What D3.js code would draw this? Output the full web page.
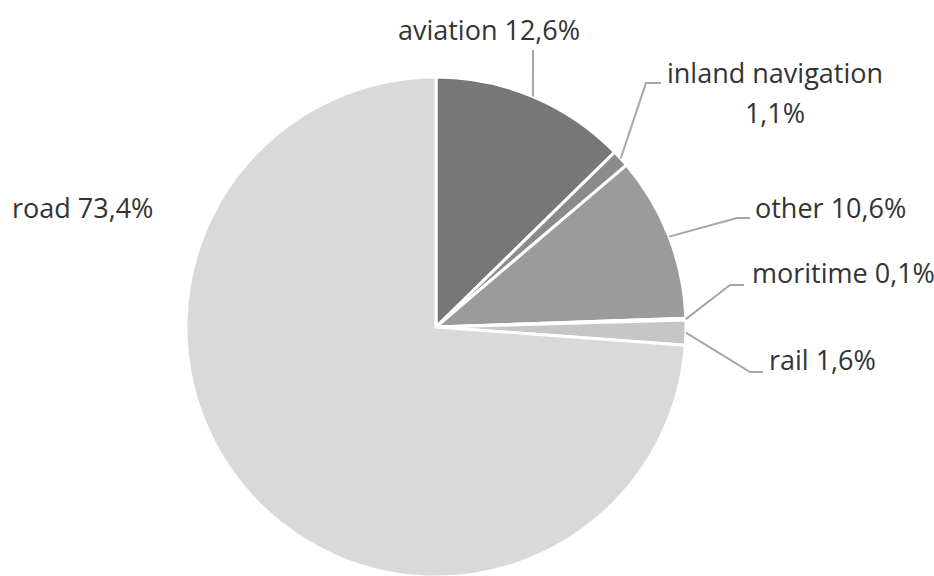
<!DOCTYPE html>
<html>
<head>
<meta charset="utf-8">
<script src="https://cdn.jsdelivr.net/npm/d3@7"></script>
<style>
  html, body { margin: 0; padding: 0; background: #fff; }
  svg { display: block; }
  text { font-family: "Open Sans", "Noto Sans", sans-serif; fill: #333333; }
</style>
</head>
<body>
<svg id="chart" width="934" height="576"></svg>
<script>
// ---- data ----
const categories = ["aviation", "inland navigation", "other", "moritime", "rail", "road"];
const shares = [12.6, 1.1, 10.6, 0.1, 1.6, 73.4];
const shareLabels = ["12,6%", "1,1%", "10,6%", "0,1%", "1,6%", "73,4%"];
const colors = ["#777777", "#8b8b8b", "#9b9b9b", "#b0b0b0", "#c6c6c6", "#d9d9d9"];

// ---- layout (label placement, not data) ----
const W = 934, H = 576;
const cx = 436, cy = 327, R = 250;
const labelLayout = [
  { lines: ["aviation 12,6%"], x: 489, y: 40, anchor: "middle", leader: [[533, 50]] },
  { lines: ["inland navigation", "1,1%"], xs: [667, 775], y: 83, anchor: ["start", "middle"], leader: [[646, 83], [661, 83]] },
  { lines: ["other 10,6%"], x: 755, y: 218, anchor: "start", leader: [[737, 218], [750, 218]] },
  { lines: ["moritime 0,1%"], x: 752, y: 283, anchor: "start", leader: [[730, 285], [744, 285]] },
  { lines: ["rail 1,6%"], x: 769, y: 370, anchor: "start", leader: [[750, 372], [763, 372]] },
  { lines: ["road 73,4%"], x: 12, y: 218, anchor: "start", leader: null }
];

const svg = d3.select("#chart");
const g = svg.append("g").attr("transform", `translate(${cx},${cy})`);

const pie = d3.pie().sort(null).value(d => d.v);
const data = categories.map((c, i) => ({ c, v: shares[i], lab: shareLabels[i], col: colors[i] }));
const arcs = pie(data);
const arc = d3.arc().innerRadius(0).outerRadius(R);

g.selectAll("path.slice")
  .data(arcs)
  .enter().append("path")
  .attr("class", "slice")
  .attr("d", arc)
  .attr("fill", d => d.data.col)
  .attr("stroke", "#ffffff")
  .attr("stroke-width", 3)
  .attr("stroke-linejoin", "round");

// leader lines
const line = d3.line();
arcs.forEach((a, i) => {
  const L = labelLayout[i];
  if (!L.leader) return;
  const mid = (a.startAngle + a.endAngle) / 2;
  const sx = cx + R * Math.sin(mid);
  const sy = cy - R * Math.cos(mid);
  svg.append("path")
    .attr("d", line([[sx, sy], ...L.leader]))
    .attr("fill", "none")
    .attr("stroke", "#a6a6a6")
    .attr("stroke-width", 2);
});

// labels
labelLayout.forEach((L, i) => {
  L.lines.forEach((t, j) => {
    svg.append("text")
      .attr("x", L.xs ? L.xs[j] : L.x)
      .attr("y", L.y + j * 40)
      .attr("text-anchor", Array.isArray(L.anchor) ? L.anchor[j] : L.anchor)
      .style("font-size", "27px")
      .text(t);
  });
});
</script>
</body>
</html>
